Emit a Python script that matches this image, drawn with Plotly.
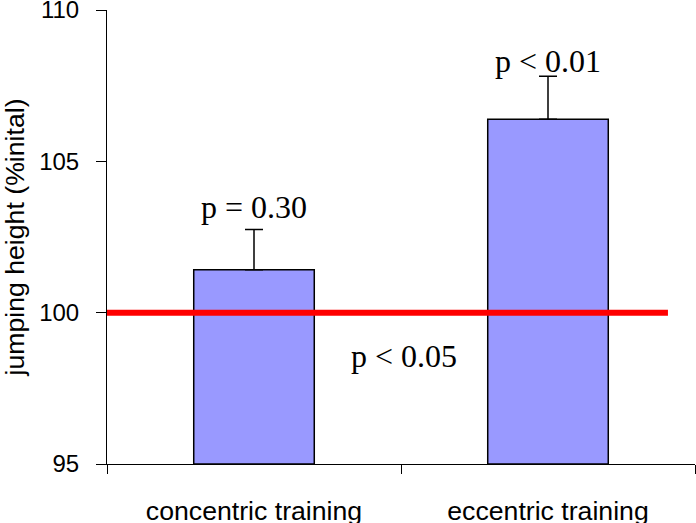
import plotly.graph_objects as go

categories = ["concentric training", "eccentric training"]
means = [101.42, 106.39]
errors_plus = [1.33, 1.42]
p_labels = ["p = 0.30", "p < 0.01"]
p_label_y = [103.48, 108.31]
reference_value = 100
reference_label = "p < 0.05"
reference_label_y = 98.58
y_ticks = [95, 100, 105, 110]

fig = go.Figure()
fig.add_trace(go.Bar(
    x=categories, y=[m - 95 for m in means], base=95,
    width=0.41,
    marker=dict(color="#9999FF", line=dict(color="black", width=1.5)),
    error_y=dict(type="data", symmetric=False, array=errors_plus,
                 arrayminus=[0, 0], color="black", thickness=1.5, width=9),
    showlegend=False, hoverinfo="skip",
))

fig.add_shape(type="line", xref="paper", yref="y", x0=0, x1=0.954,
              y0=reference_value, y1=reference_value,
              line=dict(color="#FF0000", width=6), layer="above")

for c, t, yy in zip(categories, p_labels, p_label_y):
    fig.add_annotation(x=c, y=yy, text=t, showarrow=False,
                       font=dict(family="Liberation Serif", size=32, color="black"))
fig.add_annotation(x=0.51, y=reference_label_y, xref="x", yref="y",
                   text=reference_label, showarrow=False,
                   font=dict(family="Liberation Serif", size=32, color="black"))

fig.update_layout(
    width=696, height=523,
    margin=dict(l=107, r=1, t=10, b=59, autoexpand=False),
    plot_bgcolor="white", paper_bgcolor="white",
    font=dict(family="Liberation Sans", color="black"),
    bargap=0.59,
)
fig.update_xaxes(
    showline=True, linecolor="black", linewidth=1,
    ticks="outside", tickson="boundaries", ticklen=9, tickcolor="black",
    tickfont=dict(size=26.67), ticklabelstandoff=23, ticklabeloverflow="allow",
    showgrid=False, zeroline=False, automargin=False,
)
fig.update_yaxes(
    range=[95, 110], tickvals=y_ticks,
    showline=True, linecolor="black", linewidth=1,
    ticks="outside", ticklen=10, tickcolor="black",
    tickfont=dict(size=24), ticklabelstandoff=12, ticklabeloverflow="allow",
    title=dict(text="jumping height (%inital)", font=dict(size=26.67), standoff=8),
    showgrid=False, zeroline=False, automargin=False,
)

fig.write_html("out.html", config={"displayModeBar": False},
               post_script="document.body.style.margin='0';document.body.style.overflow='hidden';")
